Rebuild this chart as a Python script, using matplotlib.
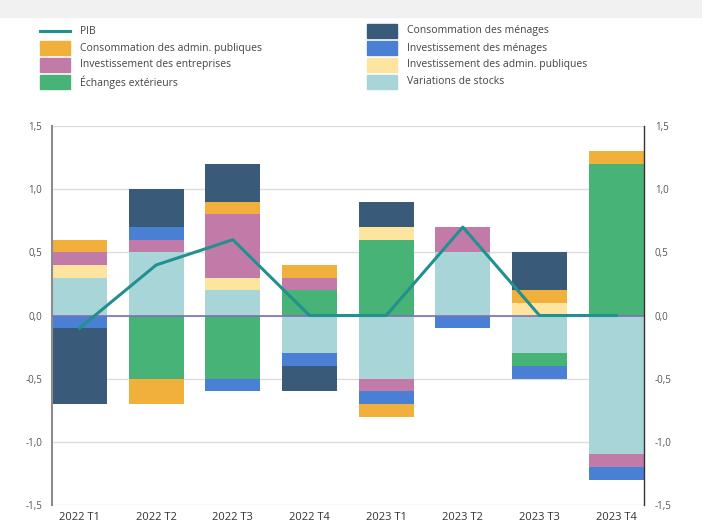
import numpy as np
import matplotlib.pyplot as plt
from matplotlib.patches import Rectangle
from matplotlib.lines import Line2D
from matplotlib.ticker import FuncFormatter

plt.rcParams['font.family'] = ['Open Sans', 'DejaVu Sans']

quarters = ["2022 T1", "2022 T2", "2022 T3", "2022 T4",
            "2023 T1", "2023 T2", "2023 T3", "2023 T4"]
pib = [-0.1, 0.4, 0.6, 0.0, 0.0, 0.7, 0.0, 0.0]
stocks = [0.3, 0.5, 0.2, -0.3, -0.5, 0.5, -0.3, -1.1]
echanges = [0.0, -0.5, -0.5, 0.2, 0.6, 0.0, -0.1, 1.2]
inv_admin = [0.1, 0.0, 0.1, 0.0, 0.1, 0.0, 0.1, 0.0]
inv_entreprises = [0.1, 0.1, 0.5, 0.1, -0.1, 0.2, 0.0, -0.1]
inv_menages = [-0.1, 0.1, -0.1, -0.1, -0.1, -0.1, -0.1, -0.1]
cons_admin = [0.1, -0.2, 0.1, 0.1, -0.1, 0.0, 0.1, 0.1]
cons_menages = [-0.6, 0.3, 0.3, -0.2, 0.2, 0.0, 0.3, 0.0]

# stacking order, from zero outwards
series = [
    ("Variations de stocks", stocks, "#a8d5d7"),
    ("Échanges extérieurs", echanges, "#47b377"),
    ("Investissement des admin. publiques", inv_admin, "#fde5a0"),
    ("Investissement des entreprises", inv_entreprises, "#c27ba9"),
    ("Investissement des ménages", inv_menages, "#4a80d3"),
    ("Consommation des admin. publiques", cons_admin, "#f0b03b"),
    ("Consommation des ménages", cons_menages, "#3a5a7a"),
]
pib_col = "#22908e"

fig = plt.figure(figsize=(7.02, 5.24), dpi=100)
ax = fig.add_axes([0.074, 0.0363, 0.843, 0.7232])

x = np.arange(len(quarters))
pos = np.zeros(len(x))
neg = np.zeros(len(x))
for name, vals, col in series:
    v = np.array(vals)
    bottom = np.where(v >= 0, pos, neg)
    ax.bar(x, v, 0.72, bottom=bottom, color=col, zorder=2)
    pos += np.where(v >= 0, v, 0)
    neg += np.where(v < 0, v, 0)

ax.axhline(0, color="#7d70b3", lw=1.2, zorder=3)
ax.plot(x, pib, color=pib_col, lw=2.2, zorder=4)

ax.set_xlim(-0.36, 7.36)
ax.set_ylim(-1.5, 1.5)
ax.set_yticks(np.arange(-1.5, 1.51, 0.5))
fmt = FuncFormatter(lambda v, p: f"{v:.1f}".replace(".", ","))
ax.yaxis.set_major_formatter(fmt)
ax.grid(axis="y", color="#dcdcdc", lw=1, zorder=0)
ax.set_axisbelow(True)
ax.set_xticks(x)
ax.set_xticklabels(quarters, fontsize=8, color="#333333")
ax.tick_params(axis="x", length=0, pad=5)
ax.tick_params(axis="y", length=0, labelsize=7, labelcolor="#555555", pad=7)
for s in ["top", "bottom", "right"]:
    ax.spines[s].set_visible(False)
ax.spines["left"].set_color("#8c8c8c")
ax.spines["left"].set_linewidth(1.5)

ax2 = ax.twinx()
ax2.set_ylim(-1.5, 1.5)
ax2.set_yticks(np.arange(-1.5, 1.51, 0.5))
ax2.yaxis.set_major_formatter(fmt)
ax2.tick_params(axis="y", length=0, labelsize=7, labelcolor="#555555", pad=8)
for s in ["top", "bottom", "left"]:
    ax2.spines[s].set_visible(False)
ax2.spines["right"].set_color("#333333")
ax2.spines["right"].set_linewidth(1)

# grey band at the top (cut-off header)
fig.add_artist(Rectangle((0, 1 - 17 / 524), 1, 17 / 524, transform=fig.transFigure,
                         color="#f1f1f1", zorder=0))

# legend, two columns
W, H = 702, 524
leg_items = [
    [("PIB", None, pib_col),
     ("Consommation des admin. publiques", None, "#f0b03b"),
     ("Investissement des entreprises", None, "#c27ba9"),
     ("Échanges extérieurs", None, "#47b377")],
    [("Consommation des ménages", None, "#3a5a7a"),
     ("Investissement des ménages", None, "#4a80d3"),
     ("Investissement des admin. publiques", None, "#fde5a0"),
     ("Variations de stocks", None, "#a8d5d7")],
]
col_x = [40, 367]
row_y = [31, 48, 65, 82]
for ci, items in enumerate(leg_items):
    hx = col_x[ci]
    for ri, (label, _, col) in enumerate(items):
        yc = row_y[ri]
        if label == "PIB":
            fig.add_artist(Line2D([hx / W, (hx + 30) / W], [1 - yc / H, 1 - yc / H],
                                  transform=fig.transFigure, color=col, lw=2.2))
        else:
            fig.add_artist(Rectangle((hx / W, 1 - (yc + 7) / H), 30 / W, 14 / H,
                                     transform=fig.transFigure, color=col))
        fig.text((hx + 40) / W, 1 - yc / H, label, fontsize=7.5, color="#444444",
                 va="center", ha="left")

fig.savefig("out.png", dpi=100)
